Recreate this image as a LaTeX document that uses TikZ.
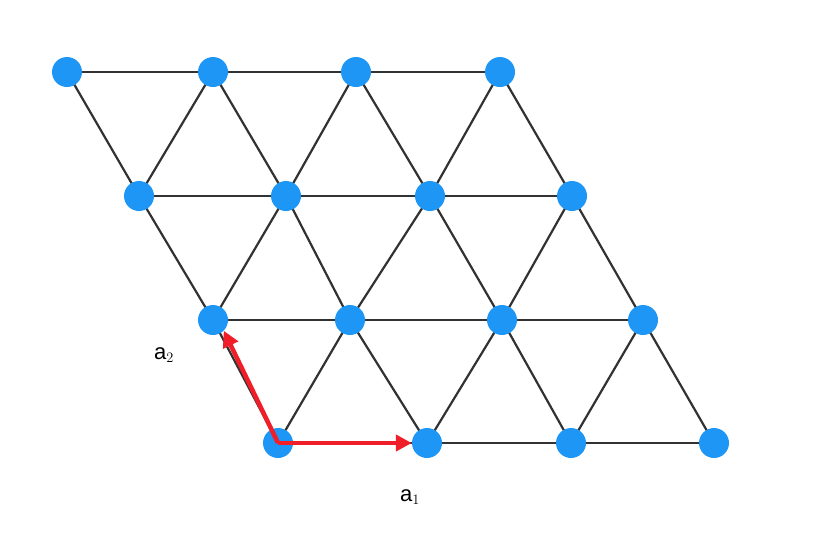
\documentclass[tikz,border=0pt]{standalone}
\usepackage{fontspec}
\setmainfont{Liberation Sans}
\usetikzlibrary{arrows.meta}
\pgfdeclarelayer{bg}
\pgfsetlayers{bg,main}
\definecolor{dotblue}{RGB}{30,150,245}
\definecolor{edgegray}{RGB}{50,50,50}
\definecolor{vecred}{RGB}{240,30,40}
\begin{document}
\begin{tikzpicture}[x=1pt,y=-1pt,
  dot/.style={circle,fill=dotblue,minimum size=30,inner sep=0},
  edge/.style={draw=edgegray,line width=2.2},
  vec/.style={draw=vecred,line width=4.5,-{Triangle[length=16,width=16]}},
  lab/.style={font=\fontsize{22}{24}\selectfont}]
\path[use as bounding box] (0,0) rectangle (818,544);
% rows: r=0 bottom
\foreach \x [count=\c from 0] in {278,427,571,714} \node[dot] (n-0-\c) at (\x,443) {};
\foreach \x [count=\c from 0] in {213,350,502,643} \node[dot] (n-1-\c) at (\x,320) {};
\foreach \x [count=\c from 0] in {139,286,430,572} \node[dot] (n-2-\c) at (\x,196) {};
\foreach \x [count=\c from 0] in {67,213,356,500} \node[dot] (n-3-\c) at (\x,72) {};
\begin{pgfonlayer}{bg}
\foreach \r in {0,1,2,3}{
  \foreach \c [evaluate=\c as \d using int(\c+1)] in {0,1,2}
    \draw[edge] (n-\r-\c.center) -- (n-\r-\d.center);}
\foreach \r [evaluate=\r as \s using int(\r+1)] in {0,1,2}{
  \foreach \c in {0,1,2,3}
    \draw[edge] (n-\r-\c.center) -- (n-\s-\c.center);
  \foreach \c [evaluate=\c as \d using int(\c+1)] in {0,1,2}
    \draw[edge] (n-\r-\c.center) -- (n-\s-\d.center);}
\end{pgfonlayer}
\draw[vec] (n-0-0.center) -- (n-0-1.west);
\draw[vec] (n-0-0.center) -- (n-1-0.south east);
\node[lab] (a1) at (410,497) {a$_1$};
\node[lab] (a2) at (164,355) {a$_2$};
\end{tikzpicture}
\end{document}
